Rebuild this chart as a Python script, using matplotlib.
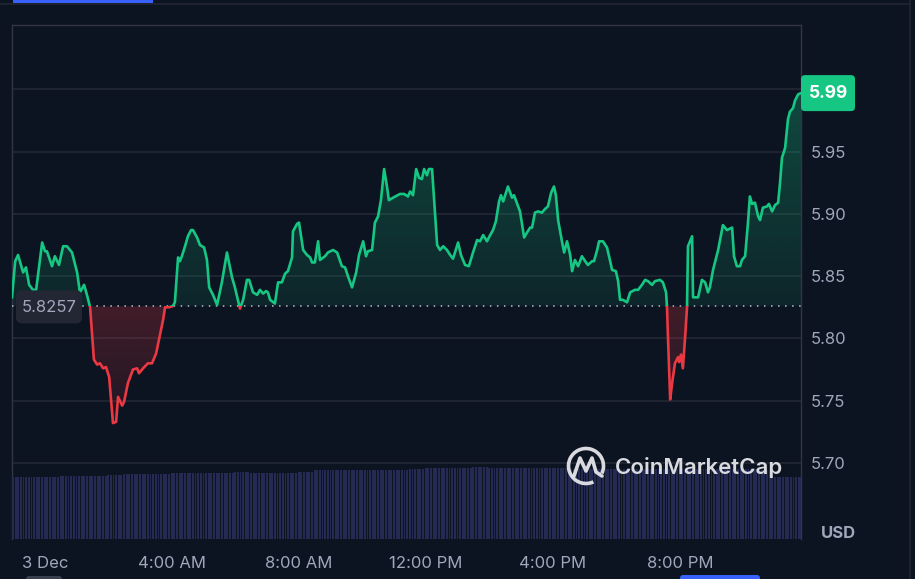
import numpy as np
import matplotlib
matplotlib.use("Agg")
import matplotlib.pyplot as plt
import matplotlib.transforms as mtransforms
from matplotlib.patches import FancyBboxPatch, Rectangle, PathPatch, Arc
from matplotlib.path import Path
from matplotlib.colors import to_rgb
from matplotlib.lines import Line2D

plt.rcParams['font.family'] = ['Inter', 'DejaVu Sans']

# price data: hours since 00:00 on 3 Dec, price in USD
hours = [-1.04, -0.94, -0.85, -0.69, -0.60, -0.50, -0.38, -0.28, -0.09, 0.00,
         0.06, 0.22, 0.31, 0.44, 0.57, 0.69, 0.85, 1.01, 1.10, 1.23,
         1.32, 1.42, 1.54, 1.64, 1.73, 1.83, 1.92, 2.02, 2.14, 2.24,
         2.30, 2.43, 2.49, 2.61, 2.77, 2.90, 2.96, 3.09, 3.24, 3.37,
         3.50, 3.59, 3.72, 3.78, 3.91, 4.03, 4.09, 4.19, 4.25, 4.31,
         4.41, 4.50, 4.60, 4.66, 4.79, 4.88, 5.01, 5.10, 5.17, 5.29,
         5.42, 5.57, 5.73, 5.89, 5.98, 6.14, 6.24, 6.36, 6.43, 6.55,
         6.68, 6.77, 6.87, 6.96, 7.02, 7.09, 7.24, 7.34, 7.46, 7.56,
         7.65, 7.78, 7.81, 7.94, 8.00, 8.06, 8.13, 8.25, 8.35, 8.41,
         8.50, 8.60, 8.66, 8.82, 8.91, 9.07, 9.20, 9.35, 9.45, 9.54,
         9.67, 9.80, 9.89, 10.02, 10.11, 10.17, 10.30, 10.39, 10.49, 10.58,
         10.68, 10.77, 10.83, 10.96, 11.18, 11.31, 11.43, 11.50, 11.59, 11.69,
         11.78, 11.87, 11.94, 12.03, 12.09, 12.19, 12.35, 12.44, 12.54, 12.66,
         12.76, 12.85, 13.01, 13.10, 13.23, 13.35, 13.48, 13.61, 13.70, 13.80,
         13.92, 14.02, 14.11, 14.20, 14.30, 14.36, 14.43, 14.58, 14.71, 14.77,
         14.96, 15.09, 15.18, 15.28, 15.34, 15.43, 15.53, 15.65, 15.75, 15.84,
         15.94, 16.03, 16.09, 16.16, 16.28, 16.35, 16.44, 16.54, 16.60, 16.69,
         16.79, 16.91, 17.04, 17.10, 17.23, 17.29, 17.39, 17.45, 17.57, 17.70,
         17.80, 17.86, 17.98, 18.05, 18.11, 18.20, 18.33, 18.43, 18.58, 18.68,
         18.80, 18.90, 18.99, 19.12, 19.21, 19.37, 19.46, 19.56, 19.59, 19.62,
         19.69, 19.75, 19.84, 19.94, 19.97, 20.03, 20.09, 20.16, 20.22, 20.25,
         20.38, 20.41, 20.47, 20.57, 20.69, 20.79, 20.88, 20.94, 21.04, 21.20,
         21.35, 21.48, 21.64, 21.70, 21.79, 21.89, 21.95, 22.05, 22.14, 22.20,
         22.27, 22.36, 22.46, 22.52, 22.61, 22.74, 22.80, 22.90, 22.99, 23.09,
         23.15, 23.21, 23.31, 23.40, 23.46, 23.56, 23.62, 23.72, 23.81]
prices = [5.833, 5.862, 5.867, 5.853, 5.857, 5.843, 5.839, 5.839, 5.877, 5.870,
          5.870, 5.858, 5.866, 5.859, 5.874, 5.874, 5.869, 5.853, 5.837, 5.843,
          5.835, 5.825, 5.783, 5.779, 5.780, 5.776, 5.777, 5.769, 5.732, 5.733,
          5.753, 5.746, 5.749, 5.764, 5.775, 5.776, 5.772, 5.776, 5.780, 5.780,
          5.788, 5.799, 5.815, 5.825, 5.825, 5.826, 5.829, 5.865, 5.862, 5.866,
          5.874, 5.882, 5.887, 5.887, 5.881, 5.875, 5.873, 5.863, 5.841, 5.835,
          5.827, 5.845, 5.869, 5.849, 5.841, 5.824, 5.831, 5.847, 5.847, 5.837,
          5.835, 5.839, 5.836, 5.838, 5.837, 5.831, 5.828, 5.845, 5.845, 5.852,
          5.854, 5.865, 5.886, 5.892, 5.893, 5.883, 5.871, 5.867, 5.865, 5.861,
          5.861, 5.878, 5.863, 5.866, 5.869, 5.871, 5.869, 5.858, 5.857, 5.850,
          5.841, 5.853, 5.867, 5.878, 5.866, 5.870, 5.871, 5.893, 5.898, 5.911,
          5.936, 5.922, 5.911, 5.913, 5.916, 5.916, 5.914, 5.918, 5.915, 5.936,
          5.929, 5.928, 5.936, 5.931, 5.936, 5.936, 5.875, 5.871, 5.874, 5.871,
          5.867, 5.864, 5.877, 5.867, 5.859, 5.858, 5.869, 5.879, 5.878, 5.883,
          5.878, 5.883, 5.887, 5.894, 5.910, 5.915, 5.910, 5.922, 5.913, 5.915,
          5.902, 5.881, 5.885, 5.889, 5.889, 5.901, 5.902, 5.901, 5.904, 5.906,
          5.917, 5.922, 5.915, 5.895, 5.878, 5.869, 5.878, 5.867, 5.854, 5.863,
          5.858, 5.866, 5.861, 5.859, 5.862, 5.862, 5.871, 5.878, 5.878, 5.873,
          5.862, 5.855, 5.854, 5.846, 5.831, 5.831, 5.829, 5.837, 5.839, 5.839,
          5.843, 5.847, 5.846, 5.843, 5.846, 5.847, 5.845, 5.837, 5.825, 5.801,
          5.751, 5.764, 5.780, 5.785, 5.781, 5.787, 5.776, 5.801, 5.825, 5.874,
          5.882, 5.833, 5.833, 5.833, 5.847, 5.845, 5.837, 5.841, 5.855, 5.871,
          5.891, 5.887, 5.889, 5.866, 5.858, 5.858, 5.863, 5.866, 5.893, 5.914,
          5.908, 5.909, 5.898, 5.895, 5.905, 5.906, 5.908, 5.902, 5.907, 5.909,
          5.925, 5.945, 5.953, 5.976, 5.982, 5.985, 5.991, 5.996, 5.997]
open_price = 5.8257
last_label = "5.99"

# volume, one value per half hour (relative units), drawn as 5-minute bars
vol_start = -1.04
volumes = [62, 62, 62, 63, 63, 63, 64, 65, 65, 65,
           66, 66, 66, 66, 67, 66, 66, 66, 67, 69,
           69, 69, 69, 69, 69, 70, 71, 71, 71, 72,
           71, 71, 71, 71, 71, 70, 70, 70, 70, 70,
           70, 70, 70, 70, 70, 70, 70, 69, 62, 62]

tick_hours = [0, 4, 8, 12, 16, 20]
tick_labels = ["3 Dec", "4:00 AM", "8:00 AM", "12:00 PM", "4:00 PM", "8:00 PM"]
price_ticks = [5.70, 5.75, 5.80, 5.85, 5.90, 5.95, 6.00]

BG = '#0d1421'
GREEN = '#16c784'
RED = '#ea3943'
GRID = '#252a37'
FRAME = '#323546'
TXT = '#a1a7bb'
W, H = 915, 579

t = np.array(hours)
p = np.array(prices)
xmin, xmax = t[0], t[-1]
ymin, ymax = 5.6389, 6.0517

fig = plt.figure(figsize=(W / 100, H / 100), dpi=100, facecolor=BG)
rect = [12 / W, 1 - 539 / H, 789 / W, 514 / H]
ax = fig.add_axes(rect, facecolor=BG, zorder=1)
axv = fig.add_axes(rect, facecolor='none', zorder=2)

# volume bars
vol_bars = np.repeat(volumes, 6)
step = 5 / 60
bar_t = vol_start + np.arange(len(vol_bars)) * step
axv.bar(bar_t, vol_bars, width=step * 0.72, align='edge', color='#242a52', linewidth=0)
axv.set_xlim(xmin, xmax)
axv.set_ylim(0, max(volumes) * 514 / 72)
axv.axis('off')


def gradient_fill(mask, color, y_lo, y_hi, a_lo, a_hi):
    coll = ax.fill_between(t, p, open_price, where=mask, interpolate=True,
                           facecolor='none', edgecolor='none')
    path = Path.make_compound_path(*coll.get_paths())
    patch = PathPatch(path, transform=ax.transData, facecolor='none', edgecolor='none')
    ax.add_patch(patch)
    grad = np.zeros((256, 1, 4))
    grad[:, :, :3] = to_rgb(color)
    grad[:, 0, 3] = np.linspace(a_lo, a_hi, 256)
    im = ax.imshow(grad, extent=[xmin, xmax, y_lo, y_hi], origin='lower',
                   aspect='auto', zorder=2, interpolation='bilinear')
    im.set_clip_path(patch)


gradient_fill(p >= open_price, GREEN, open_price, ymax, 0.10, 0.36)
gradient_fill(p <= open_price, RED, 5.72, open_price, 0.06, 0.24)

# price line, green above the open price and red below
ln_g, = ax.plot(t, p, color=GREEN, lw=1.9, zorder=4, solid_joinstyle='round')
ln_g.set_clip_path(Rectangle((xmin, open_price), xmax - xmin, ymax - open_price,
                             transform=ax.transData))
ln_r, = ax.plot(t, p, color=RED, lw=1.9, zorder=4, solid_joinstyle='round')
ln_r.set_clip_path(Rectangle((xmin, ymin), xmax - xmin, open_price - ymin,
                             transform=ax.transData))

ax.axhline(open_price, color='#b8bccb', lw=1.1, ls=(0, (1, 3.6)), zorder=3)

ax.set_xlim(xmin, xmax)
ax.set_ylim(ymin, ymax)
ax.set_yticks(price_ticks)
# the 6.00 label sits under the last-price tag, so it is left blank
ax.set_yticklabels([f"{v:.2f}" if v < 5.999 else "" for v in price_ticks])
ax.yaxis.tick_right()
ax.set_xticks(tick_hours)
ax.set_xticklabels(tick_labels)
ax.tick_params(axis='y', length=0, pad=7, labelsize=12, labelcolor=TXT)
ax.tick_params(axis='x', length=0, pad=12, labelsize=12, labelcolor=TXT)
ax.grid(axis='y', color=GRID, lw=1.1)
ax.grid(axis='x', visible=False)
for side in ['top', 'left', 'right']:
    ax.spines[side].set_color(FRAME)
    ax.spines[side].set_linewidth(1.0)
ax.spines['bottom'].set_visible(False)

# helpers in pixel coordinates (y measured from top)
ident = mtransforms.IdentityTransform()


def py(y):
    return H - y


# last price tag
_, ylast = ax.transData.transform((xmax, p[-1]))
tag = FancyBboxPatch((801, ylast - 18), 54, 36, boxstyle='round,pad=0,rounding_size=4',
                     transform=ident, facecolor=GREEN, edgecolor='none', zorder=10)
fig.add_artist(tag)
fig.text(828 / W, ylast / H, last_label, ha='center', va='center', color='white',
         fontsize=12.5, fontweight='bold', zorder=11)

# open price tag
_, yopen = ax.transData.transform((xmin, open_price))
otag = FancyBboxPatch((16, yopen - 17), 66, 33, boxstyle='round,pad=0,rounding_size=6',
                      transform=ident, facecolor='#232734', edgecolor='none', zorder=10)
fig.add_artist(otag)
fig.text(49 / W, (yopen - 1) / H, f"{open_price:.4f}", ha='center', va='center',
         color=TXT, fontsize=12, zorder=11)

fig.text(838 / W, py(533) / H, "USD", ha='center', va='center', color=TXT,
         fontsize=12, fontweight='bold')

# watermark
wm = '#e4e6ea'
arc = Arc((586, py(466)), 35, 35, theta1=-25, theta2=295, transform=ident,
          color=wm, lw=2.6, zorder=12, alpha=0.95)
fig.add_artist(arc)
mx = [574, 580, 586, 592, 596, 602]
my = [476, 458, 471, 458, 472, 476]
fig.add_artist(Line2D(mx, [py(v) for v in my], transform=ident, color=wm, lw=2.6,
                      solid_joinstyle='round', solid_capstyle='round', zorder=12, alpha=0.95))
fig.text(615 / W, py(467) / H, "CoinMarketCap", ha='left', va='center', color=wm,
         fontsize=16, fontweight='semibold', zorder=12, alpha=0.95)

# page chrome around the chart
fig.add_artist(Line2D([0, 910], [py(4), py(4)], transform=ident, color='#222531', lw=1.2))
fig.add_artist(Rectangle((13, py(3)), 140, 4, transform=ident, facecolor='#3861fb',
                         edgecolor='none'))
fig.add_artist(Line2D([910, 910], [0, H], transform=ident, color='#222531', lw=1.2))
fig.add_artist(FancyBboxPatch((26, py(579) - 4), 36, 7, boxstyle='round,pad=0,rounding_size=3',
                              transform=ident, facecolor='#3a3f50', edgecolor='none'))
fig.add_artist(FancyBboxPatch((680, py(579) - 4), 80, 8, boxstyle='round,pad=0,rounding_size=3',
                              transform=ident, facecolor='#3861fb', edgecolor='none'))

fig.savefig('out.png', dpi=100, facecolor=BG)
